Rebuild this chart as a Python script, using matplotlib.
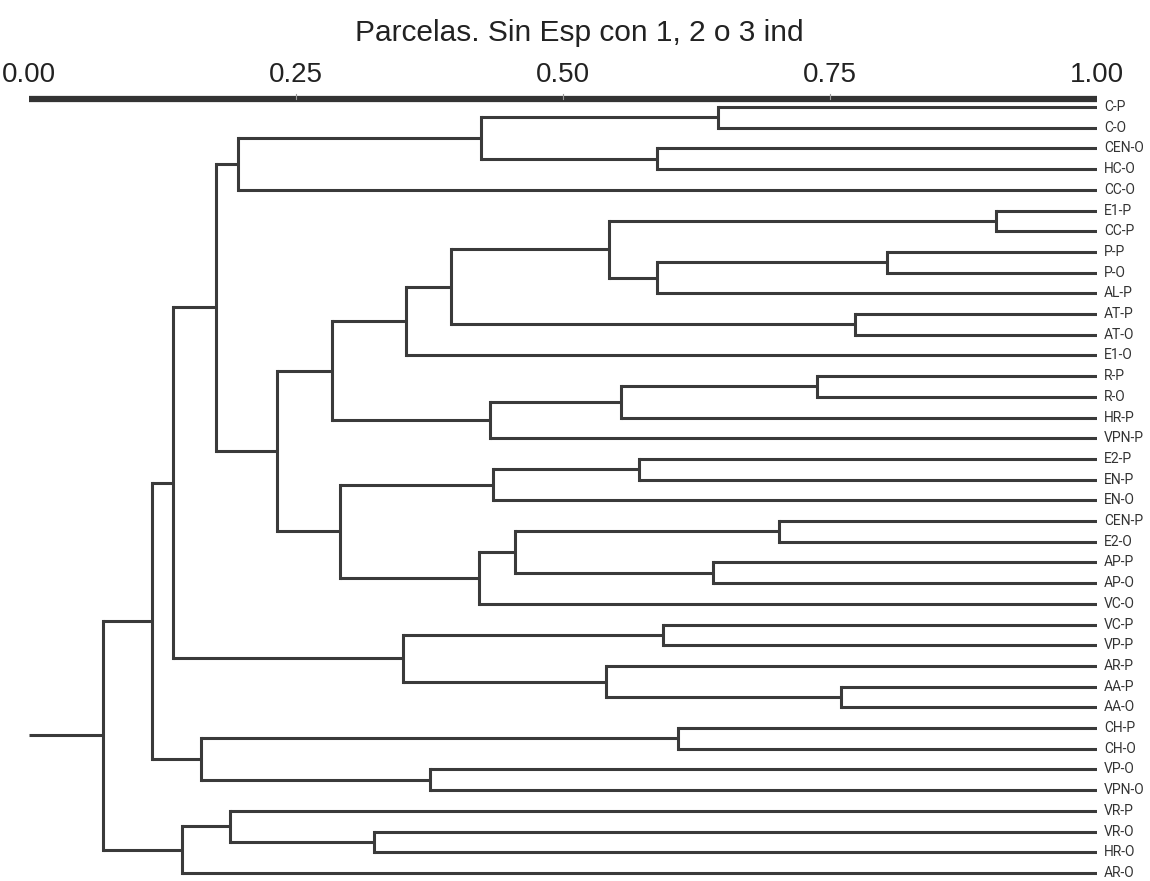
import matplotlib
matplotlib.use("Agg")
import matplotlib.pyplot as plt
from matplotlib.transforms import blended_transform_factory

# ---------------- data ----------------
title = "Parcelas. Sin Esp con 1, 2 o 3 ind"
tick_values = [0.00, 0.25, 0.50, 0.75, 1.00]
tick_labels = ["0.00", "0.25", "0.50", "0.75", "1.00"]

leaf_labels = ["C-P", "C-O", "CEN-O", "HC-O", "CC-O", "E1-P", "CC-P", "P-P", "P-O",
               "AL-P", "AT-P", "AT-O", "E1-O", "R-P", "R-O", "HR-P", "VPN-P", "E2-P",
               "EN-P", "EN-O", "CEN-P", "E2-O", "AP-P", "AP-O", "VC-O", "VC-P", "VP-P",
               "AR-P", "AA-P", "AA-O", "CH-P", "CH-O", "VP-O", "VPN-O", "VR-P", "VR-O",
               "HR-O", "AR-O"]

# linkage: cluster ids 0..37 are leaves, 38+k is the k-th join
join_a = [0, 2, 38, 40, 5, 7, 43, 42, 10, 45, 47, 13, 49, 50, 48, 17, 53, 20, 22, 55,
          57, 54, 52, 41, 25, 28, 27, 62, 61, 30, 32, 67, 66, 35, 34, 72, 70]
join_b = [1, 3, 39, 4, 6, 8, 9, 44, 11, 46, 12, 14, 15, 16, 51, 18, 19, 21, 23, 56,
          24, 58, 59, 60, 26, 29, 63, 64, 65, 31, 33, 68, 69, 36, 71, 37, 73]
join_sim = [0.645, 0.588, 0.423, 0.196, 0.905, 0.803, 0.588, 0.543, 0.773, 0.395,
            0.353, 0.738, 0.554, 0.432, 0.284, 0.571, 0.434, 0.702, 0.640, 0.455,
            0.421, 0.291, 0.232, 0.175, 0.594, 0.760, 0.540, 0.350, 0.135, 0.608,
            0.375, 0.161, 0.115, 0.323, 0.188, 0.143, 0.069]

# ---------------- figure ----------------
W, H = 1150, 881
fig = plt.figure(figsize=(W / 100, H / 100), dpi=100)
fig.patch.set_facecolor("white")

x0_px, x1_px = 29, 1097
top_px, bot_px = 90, 881
ax = fig.add_axes([x0_px / W, 1 - bot_px / H, (x1_px - x0_px) / W, (bot_px - top_px) / H])
ax.set_axis_off()

n = len(leaf_labels)
first_px, last_px = 107, 873
step = (last_px - first_px) / (n - 1)
ax.set_xlim(0, 1)
ax.set_ylim((bot_px - first_px) / step, (top_px - first_px) / step)

line_col = "#3a3a3a"
lw = 2.2

# positions of clusters
pos_x = {i: 1.0 for i in range(n)}
pos_y = {i: float(i) for i in range(n)}
for k, (a, b, s) in enumerate(zip(join_a, join_b, join_sim)):
    cid = n + k
    pos_x[cid] = s
    pos_y[cid] = (pos_y[a] + pos_y[b]) / 2
    ax.plot([s, s], [pos_y[a], pos_y[b]], color=line_col, lw=lw,
            solid_capstyle="projecting", solid_joinstyle="miter")
    for c in (a, b):
        ax.plot([s, pos_x[c]], [pos_y[c], pos_y[c]], color=line_col, lw=lw,
                solid_capstyle="butt")

root = n + len(join_sim) - 1
ax.plot([0, pos_x[root]], [pos_y[root], pos_y[root]], color=line_col, lw=lw,
        solid_capstyle="butt")

# leaf labels
label_family = ["Liberation Sans Narrow", "DejaVu Sans Condensed", "Roboto", "DejaVu Sans"]
for i, lab in enumerate(leaf_labels):
    ax.text(1.0 + 7 / (x1_px - x0_px), i, lab, ha="left", va="center",
            fontsize=10, family=label_family, color="#333333", clip_on=False)

# top scale bar
bar_y = (99 - first_px) / step
ax.plot([0, 1], [bar_y, bar_y], color="#333333", lw=4.5, solid_capstyle="butt",
        clip_on=False)
for v in tick_values[1:-1]:
    ax.plot([v, v], [bar_y, bar_y - 0.25], color="#999999", lw=0.8, clip_on=False)

trans = blended_transform_factory(ax.transData, fig.transFigure)
for v, t in zip(tick_values, tick_labels):
    fig.text(v, 1 - 75 / H, t, transform=trans, ha="center", va="center",
             fontsize=20, family="Liberation Sans", color="#222222")

fig.text(579 / W, 1 - 33 / H, title, ha="center", va="center", fontsize=21.5,
         family="Liberation Sans", color="#222222")

fig.savefig("out.png", dpi=100, facecolor="white")
